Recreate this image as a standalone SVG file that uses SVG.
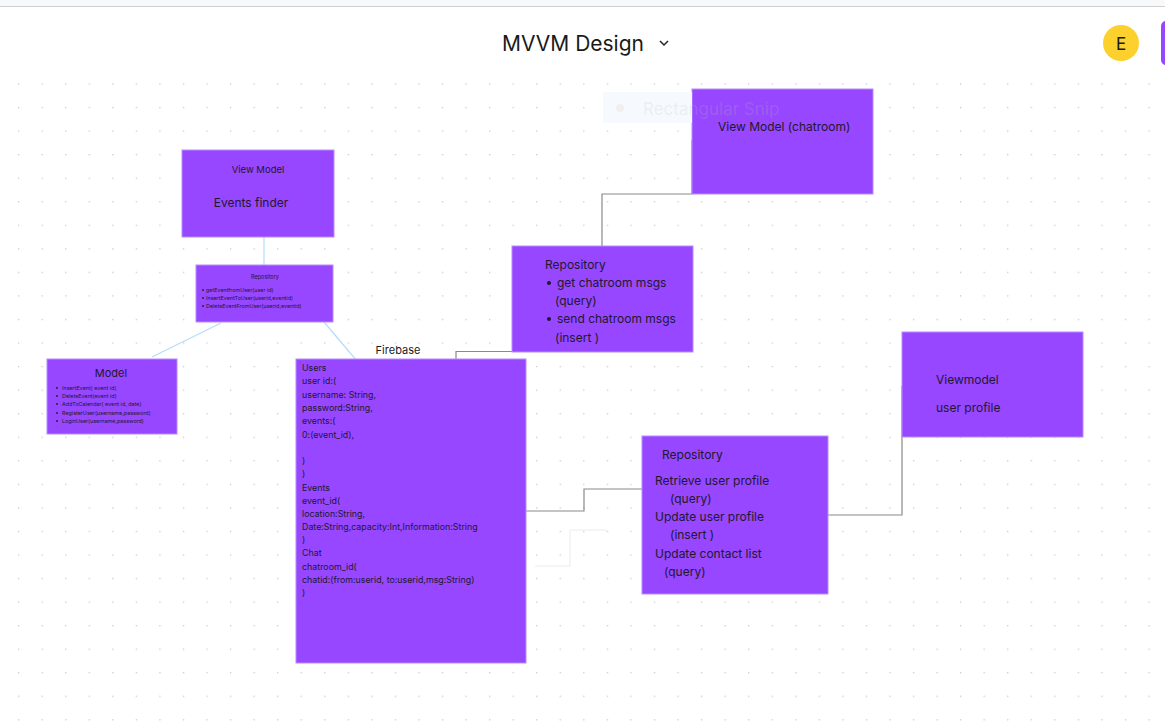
<svg xmlns="http://www.w3.org/2000/svg" width="1165" height="723" viewBox="0 0 1165 723">
<defs>
<pattern id="dots" x="18" y="12.7" width="23.55" height="23.55" patternUnits="userSpaceOnUse">
<rect x="0" y="0" width="1.3" height="1.3" fill="#c9c9c9"/>
</pattern>
<style>
.node{fill:#9747ff;stroke:#b88bff;stroke-width:1}
.t{font-family:Inter,"Liberation Sans",sans-serif;fill:#22182e}
.conn{fill:none;stroke:#8a8a8a;stroke-width:1.2}
.blue{fill:none;stroke:#b5ddf8;stroke-width:1.2}
.faint{fill:none;stroke:#ececec;stroke-width:1}
</style>
</defs>
<rect width="1165" height="723" fill="#ffffff"/>
<rect x="0" y="75" width="1165" height="648" fill="url(#dots)"/>
<rect x="0" y="0" width="1165" height="6" fill="#f8f9fa"/>
<line x1="0" y1="6.5" x2="1165" y2="6.5" stroke="#cfcfcf" stroke-width="1"/>
<text x="573" y="51" text-anchor="middle" class="t" style="fill:#1a1a1a" font-size="21">MVVM Design</text>
<path d="M660,41 l4,4 l4,-4" fill="none" stroke="#222" stroke-width="1.5"/>
<circle cx="1121" cy="43" r="18" fill="#fcd02d"/>
<text x="1121" y="50" text-anchor="middle" class="t" style="fill:#1a1a1a" font-size="17">E</text>
<rect x="1161" y="21" width="12" height="44" rx="5" fill="#9747ff"/>

<g id="connectors">
<line class="blue" x1="264" y1="237" x2="264" y2="265"/>
<line class="blue" x1="221" y1="323" x2="152" y2="357"/>
<line class="blue" x1="324" y1="322" x2="357" y2="361"/>
<path class="conn" d="M692,140 V194 H602 V246"/>
<path class="conn" d="M512,351.5 H456 V359"/>
<path class="conn" d="M526,511 H584 V489 H642"/>
<path class="conn" d="M828,515 H902 V386"/>
<path class="faint" d="M607,530 H570 V566 H535"/>
</g>

<g id="vm-events">
<rect class="node" x="182" y="150" width="152" height="87"/>
<text class="t" x="258" y="173" text-anchor="middle" font-size="9.5">View Model</text>
<text class="t" x="251" y="207" text-anchor="middle" font-size="12">Events finder</text>
</g>

<g id="repo-events">
<rect class="node" x="196" y="265" width="137" height="57"/>
<text class="t" x="265" y="279" text-anchor="middle" font-size="5.5">Repository</text>
<g class="t" font-size="5.4">
<circle cx="203" cy="290" r="0.9" fill="#22182e"/>
<circle cx="203" cy="298" r="0.9" fill="#22182e"/>
<circle cx="203" cy="306" r="0.9" fill="#22182e"/>
<text x="206" y="292">getEventfromUser(user id)</text>
<text x="206" y="300">InsertEventToUser(userid,eventid)</text>
<text x="206" y="308">DeleteEventFromUser(userid,eventid)</text>
</g>
</g>

<g id="model">
<rect class="node" x="47" y="359" width="130" height="75"/>
<text class="t" x="111" y="377" text-anchor="middle" font-size="11">Model</text>
<g class="t" font-size="5.4">
<circle cx="57" cy="388" r="0.9" fill="#22182e"/>
<circle cx="57" cy="396" r="0.9" fill="#22182e"/>
<circle cx="57" cy="404" r="0.9" fill="#22182e"/>
<circle cx="57" cy="413" r="0.9" fill="#22182e"/>
<circle cx="57" cy="421" r="0.9" fill="#22182e"/>
<text x="62" y="390">InsertEvent( event id)</text>
<text x="62" y="398">DeleteEvent(event id)</text>
<text x="62" y="406">AddToCalendar( event id, date)</text>
<text x="62" y="415">RegisterUser(username,password)</text>
<text x="62" y="423">LoginUser(username,password)</text>
</g>
</g>

<g id="firebase">
<text class="t" x="398" y="354" text-anchor="middle" font-size="11" style="fill:#1a1a1a">Firebase</text>
<rect class="node" x="296" y="359" width="230" height="304"/>
<g class="t" font-size="8.85">
<text x="302" y="371">Users</text>
<text x="302" y="384">user id:(</text>
<text x="302" y="398">username: String,</text>
<text x="302" y="411">password:String,</text>
<text x="302" y="424">events:(</text>
<text x="302" y="438">0:(event_id),</text>
<text x="302" y="464">)</text>
<text x="302" y="477">)</text>
<text x="302" y="491">Events</text>
<text x="302" y="504">event_id(</text>
<text x="302" y="517">location:String,</text>
<text x="302" y="530">Date:String,capacity:Int,Information:String</text>
<text x="302" y="543">)</text>
<text x="302" y="556">Chat</text>
<text x="302" y="570">chatroom_id(</text>
<text x="302" y="583">chatid:(from:userid, to:userid,msg:String)</text>
<text x="302" y="596">)</text>
</g>
</g>

<g id="vm-chatroom">
<rect class="node" x="692" y="89" width="181" height="105"/>
<text class="t" x="718" y="131" font-size="12">View Model (chatroom)</text>
</g>

<g id="repo-chatroom">
<rect class="node" x="512" y="246" width="181" height="106"/>
<g class="t" font-size="12">
<text x="545" y="269">Repository</text>
<circle cx="549" cy="283" r="2" fill="#22182e"/>
<text x="557" y="287">get chatroom msgs</text>
<text x="555" y="305">(query)</text>
<circle cx="549" cy="319" r="2" fill="#22182e"/>
<text x="557" y="323">send chatroom msgs</text>
<text x="555" y="342">(insert )</text>
</g>
</g>

<g id="vm-userprofile">
<rect class="node" x="902" y="332" width="181" height="105"/>
<g class="t" font-size="12">
<text x="936" y="384">Viewmodel</text>
<text x="936" y="412">user profile</text>
</g>
</g>

<g id="repo-userprofile">
<rect class="node" x="642" y="436" width="186" height="158"/>
<g class="t" font-size="12">
<text x="662" y="459">Repository</text>
<text x="655" y="485">Retrieve user profile</text>
<text x="670" y="503">(query)</text>
<text x="655" y="521">Update user profile</text>
<text x="670" y="539">(insert )</text>
<text x="655" y="558">Update contact list</text>
<text x="664" y="576">(query)</text>
</g>
</g>

<g id="snip-overlay">
<rect x="603" y="92" width="89" height="31" fill="#f6faff"/>
<circle cx="620" cy="108" r="4" fill="#f2eeee"/>
<text x="643" y="115" class="t" style="fill:#bbbbbb;fill-opacity:0.2" font-size="17">Rectangular Snip</text>
</g>
</svg>
